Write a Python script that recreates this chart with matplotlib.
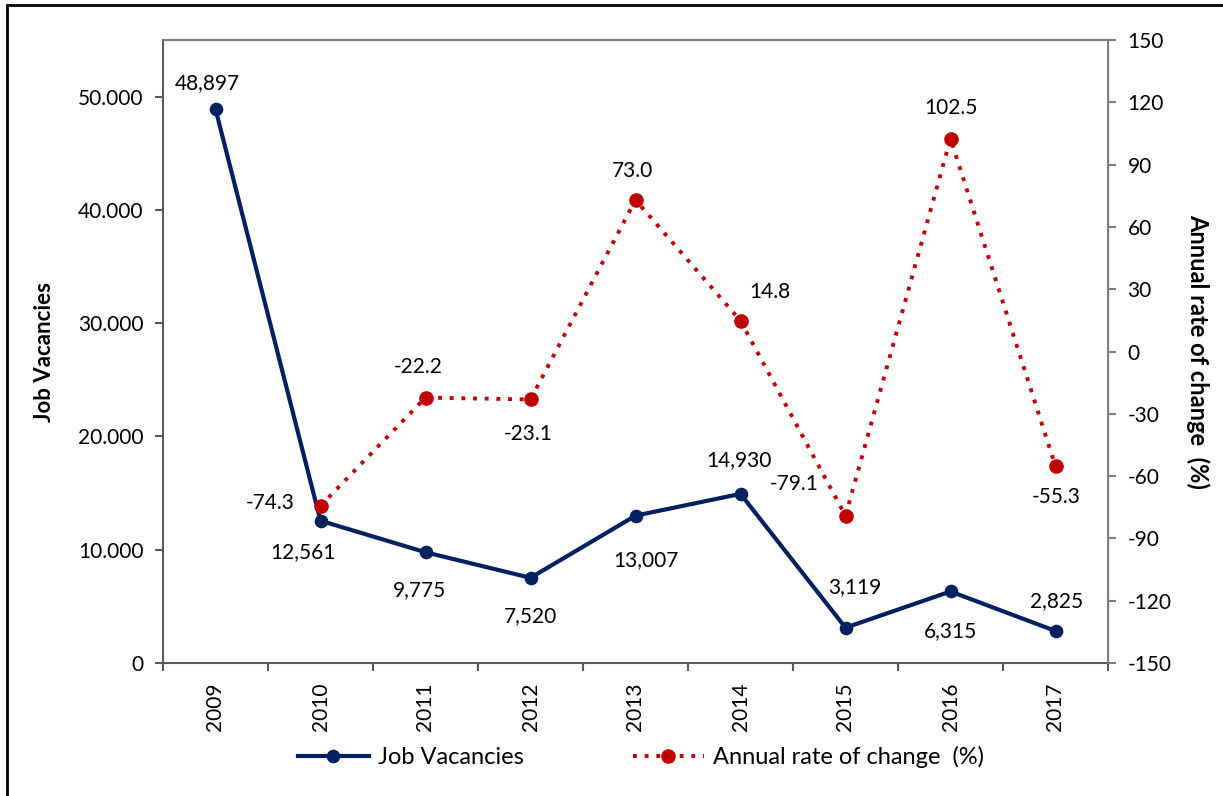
import matplotlib.pyplot as plt
from matplotlib.patches import Rectangle
from matplotlib.ticker import FuncFormatter

plt.rcParams['font.family'] = ['Lato', 'DejaVu Sans']
plt.rcParams['axes.unicode_minus'] = False

years = ["2009", "2010", "2011", "2012", "2013", "2014", "2015", "2016", "2017"]
vacancies = [48897, 12561, 9775, 7520, 13007, 14930, 3119, 6315, 2825]
rate_years = years[1:]
rate = [-74.3, -22.2, -23.1, 73.0, 14.8, -79.1, 102.5, -55.3]

vac_labels = ["48,897", "12,561", "9,775", "7,520", "13,007", "14,930", "3,119", "6,315", "2,825"]
rate_labels = ["-74.3", "-22.2", "-23.1", "73.0", "14.8", "-79.1", "102.5", "-55.3"]

# label offsets in pixels (dx, dy)
vac_off = [(-8, 26), (-18, -31), (-6, -38), (0, -38), (10, -44), (-2, 34), (9, 41), (0, -40), (1, 30)]
rate_off = [(-50, 3), (-7, 31), (-2, -35), (-3, 29), (29, 29), (-51, 32), (0, 31), (1, -31)]

navy = "#002060"
red = "#C00000"
gray = "#7f7f7f"

fig = plt.figure(figsize=(12.23, 7.96), dpi=100)
ax = fig.add_axes([163/1223, 1 - 663/796, (1108-163)/1223, (663-40)/796])
ax2 = ax.twinx()

x = list(range(len(years)))
xr = x[1:]

ax.plot(x, vacancies, color=navy, lw=3, marker="o", ms=8.8, zorder=3, label="Job Vacancies")
ax2.plot(xr, rate, color=red, lw=2.8, ls=(0, (1, 2)), marker="o", ms=9.5, zorder=3,
         label="Annual rate of change  (%)")

ax.set_xlim(-0.5, len(years) - 0.5)
ax.set_ylim(0, 55000)
ax2.set_ylim(-150, 150)
ax.set_yticks(range(0, 50001, 10000))
ax.yaxis.set_major_formatter(FuncFormatter(lambda v, p: "0" if v == 0 else f"{int(v):,}".replace(",", ".")))
ax2.set_yticks(range(-150, 151, 30))

ax.set_xticks(x)
ax.set_xticklabels(years, rotation=90)
ax.set_xticks([i - 0.5 for i in range(len(years) + 1)], minor=True)
ax.tick_params(axis="x", which="major", length=0, pad=14, labelsize=15)
ax.tick_params(axis="x", which="minor", length=6, width=1.5, color="#595959")
ax.tick_params(axis="y", length=6, width=1.5, color="#595959", labelsize=15, pad=8)
ax2.tick_params(axis="y", length=6, width=1.5, color=gray, labelsize=15, pad=8)

for s in ["left", "bottom"]:
    ax.spines[s].set_color("#595959")
    ax.spines[s].set_linewidth(1.5)
ax.spines["top"].set_color(gray)
ax.spines["top"].set_linewidth(1.5)
ax2.spines["top"].set_color(gray)
ax2.spines["top"].set_linewidth(1.5)
ax2.spines["right"].set_color(gray)
ax2.spines["right"].set_linewidth(1.5)
ax2.spines["left"].set_visible(False)
ax2.spines["bottom"].set_visible(False)

ax.set_ylabel("Job Vacancies", fontsize=16, fontweight="bold", va="center")
ax.yaxis.set_label_coords(-0.125, 0.5)
ax2.set_ylabel("Annual rate of change  (%)", fontsize=17, fontweight="bold", rotation=270, va="center")
ax2.yaxis.set_label_coords(1.095, 0.5)

for xi, v, lab, (dx, dy) in zip(x, vacancies, vac_labels, vac_off):
    ax.annotate(lab, (xi, v), xytext=(dx, dy), textcoords="offset pixels",
                ha="center", va="center", fontsize=15)
for xi, v, lab, (dx, dy) in zip(xr, rate, rate_labels, rate_off):
    ax2.annotate(lab, (xi, v), xytext=(dx, dy), textcoords="offset pixels",
                 ha="center", va="center", fontsize=15)

h1, l1 = ax.get_legend_handles_labels()
h2, l2 = ax2.get_legend_handles_labels()
fig.legend(h1 + h2, l1 + l2, loc="center", bbox_to_anchor=(641/1223, 1 - 757/796),
           ncol=2, frameon=False, fontsize=17, handlelength=3.0, columnspacing=4.6,
           handletextpad=0.4)

fig.patches.append(Rectangle((7/1223, -0.1), 1.2, 1.1 - 5/796, transform=fig.transFigure,
                             fill=False, edgecolor="black", lw=2))

fig.savefig("out.png", dpi=100)
